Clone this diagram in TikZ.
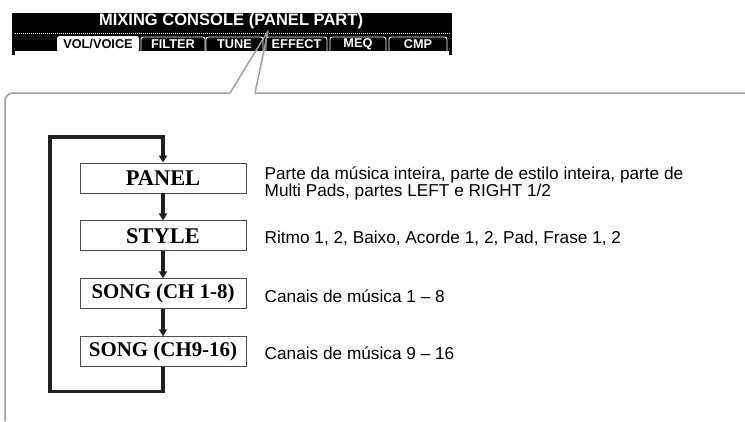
\documentclass[tikz,border=0pt]{standalone}
\usepackage{fontspec}
\setmainfont{Liberation Serif}
\setsansfont{Liberation Sans}
\usetikzlibrary{arrows.meta,positioning}
\definecolor{cframe}{HTML}{A0A0A0}
\definecolor{cline}{HTML}{231F20}
\definecolor{cborder}{HTML}{4D4D4D}
\tikzset{
  part/.style={draw=cborder,line width=0.9bp,fill=white,minimum width=166bp,minimum height=30bp,
    inner sep=0pt,font=\fontsize{21}{24}\selectfont\bfseries},
  bigpart/.style={part,font=\fontsize{22.5}{24}\selectfont\bfseries},
  note/.style={align=left,inner sep=0pt,font=\sffamily\fontsize{17.3}{13}\selectfont},
  flow/.style={draw=cline,line width=3.3bp,line join=miter},
  callout/.style={draw=cframe,line width=1.5bp},
  tab/.style={draw=white,line width=0.9bp,rounded corners=2.5bp},
  tablabel/.style={font=\sffamily\bfseries\fontsize{12.8}{14}\selectfont,inner sep=0pt},
  >={Triangle[length=7bp,width=8bp]}
}
\begin{document}
\begin{tikzpicture}[x=1bp,y=-1bp,node distance=27bp]
  \useasboundingbox (0,0) rectangle (745,421);
  % screen header
  \fill[black] (12,13) rectangle (452,55);
  \fill[white] (15,51) rectangle (449,56);
  \draw[white,line width=0.9bp,dash pattern=on 1bp off 1bp] (15,33) -- (450,33);
  \node[text=white,font=\sffamily\bfseries\fontsize{16.6}{18}\selectfont,inner sep=0pt] (title) at (231,21) {MIXING CONSOLE (PANEL PART)};
  \fill[white,rounded corners=2.5bp] (57,52) |- (139,36) -- (139,52) -- cycle;
  \node[tablabel] (voice) at (98,44) {VOL/VOICE};
  \foreach \l/\r/\t in {141/205/FILTER,206/263/TUNE,266/327/EFFECT,330/386/MEQ,389/447/CMP}{
    \draw[tab] (\l,51) |- (\r,37) -- (\r,51);
    \node[tablabel,text=white] at ({(\l+\r)/2},44) {\t};
  }
  % callout frame
  \draw[callout,rounded corners=8bp] (5,421) |- (230,93);
  \draw[callout,line join=round] (230,93) -- (268,31) -- (255,93) -- (745,93);
  % parts
  \node[bigpart] (panel) at (163,178) {PANEL};
  \node[bigpart,below=of panel] (style) {STYLE};
  \node[part,below=of style] (song1) {SONG (CH 1-8)};
  \node[part,below=of song1] (song2) {SONG (CH9-16)};
  \node[note,right=18bp of panel,yshift=-5bp] (panelnote) {Parte da música inteira, parte de estilo inteira, parte de\\Multi Pads, partes LEFT e RIGHT 1/2};
  \node[note,right=18bp of style,yshift=-2bp] (stylenote) {Ritmo 1, 2, Baixo, Acorde 1, 2, Pad, Frase 1, 2};
  \node[note,right=18bp of song1,yshift=-2bp] (song1note) {Canais de música 1 – 8};
  \node[note,right=18bp of song2,yshift=-2bp] (song2note) {Canais de música 9 – 16};
  % order
  \coordinate (back) at (50,137);
  \draw[flow,->] (panel) -- (style);
  \draw[flow,->] (style) -- (song1);
  \draw[flow,->] (song1) -- (song2);
  \draw[flow,->] (song2.south) -- ++(0,24) -| (back) -- (back -| panel.north) -- (panel.north);
\end{tikzpicture}
\end{document}
